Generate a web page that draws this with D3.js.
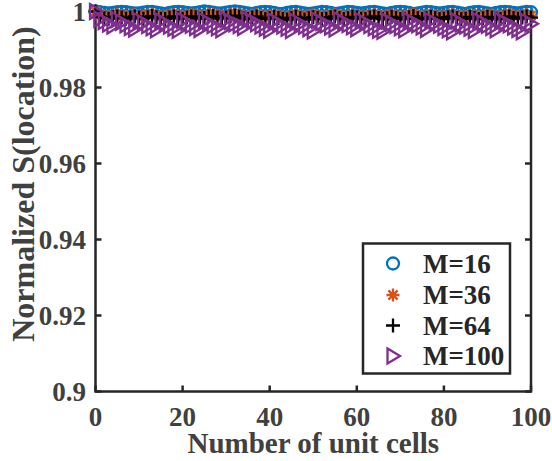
<!DOCTYPE html>
<html lang="en">
<head>
<meta charset="utf-8">
<title>Normalized S(location)</title>
<script src="https://cdn.jsdelivr.net/npm/d3@7"></script>
<style>
  body { margin: 0; background: #fff; }
  text { font-family: "Liberation Serif", "Times New Roman", serif; font-weight: bold; fill: #404040; }
</style>
</head>
<body>
<script>
// data
var series_names = ["M=16", "M=36", "M=64", "M=100"];
var cells = d3.range(0, 101);   // number of unit cells 0..100

var s_m16 = [
  1.0000, 0.9998, 0.9996, 0.9995, 0.9996, 0.9998, 0.9999, 0.9998, 0.9996, 0.9995,
  0.9995, 0.9997, 0.9999, 0.9999, 0.9997, 0.9995, 0.9994, 0.9996, 0.9998, 0.9999,
  0.9998, 0.9996, 0.9995, 0.9996, 0.9998, 1.0000, 0.9999, 0.9997, 0.9995, 0.9995,
  0.9997, 0.9999, 1.0000, 0.9999, 0.9997, 0.9995, 0.9994, 0.9996, 0.9998, 0.9999,
  0.9998, 0.9996, 0.9994, 0.9994, 0.9996, 0.9998, 0.9999, 0.9997, 0.9995, 0.9994,
  0.9995, 0.9997, 0.9999, 0.9998, 0.9996, 0.9994, 0.9995, 0.9997, 0.9999, 0.9998,
  0.9996, 0.9995, 0.9996, 0.9998, 0.9999, 0.9997, 0.9995, 0.9994, 0.9996, 0.9998,
  0.9999, 0.9998, 0.9996, 0.9994, 0.9995, 0.9997, 0.9999, 0.9998, 0.9996, 0.9995,
  0.9996, 0.9998, 0.9999, 0.9997, 0.9995, 0.9994, 0.9996, 0.9998, 0.9999, 0.9997,
  0.9995, 0.9994, 0.9996, 0.9998, 0.9999, 0.9998, 0.9996, 0.9995, 0.9997, 0.9999,
  0.9998
];
var s_m36 = [
  1.0000, 0.9991, 0.9988, 0.9986, 0.9990, 0.9992, 0.9989, 0.9987, 0.9990, 0.9992,
  0.9989, 0.9987, 0.9991, 0.9993, 0.9990, 0.9987, 0.9986, 0.9990, 0.9992, 0.9989,
  0.9987, 0.9990, 0.9992, 0.9990, 0.9987, 0.9989, 0.9992, 0.9993, 0.9990, 0.9987,
  0.9989, 0.9992, 0.9994, 0.9991, 0.9988, 0.9986, 0.9990, 0.9992, 0.9989, 0.9986,
  0.9988, 0.9991, 0.9989, 0.9986, 0.9985, 0.9989, 0.9991, 0.9988, 0.9986, 0.9988,
  0.9991, 0.9989, 0.9986, 0.9987, 0.9990, 0.9992, 0.9989, 0.9986, 0.9988, 0.9991,
  0.9990, 0.9987, 0.9986, 0.9990, 0.9992, 0.9989, 0.9986, 0.9988, 0.9991, 0.9989,
  0.9986, 0.9987, 0.9991, 0.9993, 0.9989, 0.9986, 0.9988, 0.9991, 0.9989, 0.9986,
  0.9987, 0.9990, 0.9992, 0.9989, 0.9986, 0.9987, 0.9991, 0.9989, 0.9986, 0.9988,
  0.9991, 0.9990, 0.9987, 0.9986, 0.9990, 0.9992, 0.9989, 0.9987, 0.9990, 0.9992,
  0.9989
];
var s_m64 = [
  1.0000, 0.9987, 0.9983, 0.9981, 0.9985, 0.9987, 0.9984, 0.9981, 0.9984, 0.9987,
  0.9984, 0.9981, 0.9985, 0.9988, 0.9985, 0.9981, 0.9980, 0.9984, 0.9987, 0.9983,
  0.9981, 0.9984, 0.9987, 0.9985, 0.9981, 0.9983, 0.9987, 0.9988, 0.9984, 0.9981,
  0.9984, 0.9987, 0.9989, 0.9986, 0.9982, 0.9980, 0.9984, 0.9987, 0.9983, 0.9980,
  0.9982, 0.9986, 0.9983, 0.9980, 0.9979, 0.9983, 0.9986, 0.9982, 0.9979, 0.9982,
  0.9985, 0.9983, 0.9980, 0.9981, 0.9985, 0.9987, 0.9983, 0.9980, 0.9982, 0.9986,
  0.9984, 0.9981, 0.9980, 0.9984, 0.9987, 0.9983, 0.9980, 0.9982, 0.9986, 0.9983,
  0.9980, 0.9981, 0.9985, 0.9988, 0.9983, 0.9980, 0.9982, 0.9986, 0.9983, 0.9980,
  0.9981, 0.9985, 0.9987, 0.9983, 0.9980, 0.9981, 0.9986, 0.9983, 0.9980, 0.9982,
  0.9986, 0.9984, 0.9981, 0.9980, 0.9984, 0.9987, 0.9983, 0.9981, 0.9984, 0.9987,
  0.9984
];
var s_m100 = [
  1.0000, 0.9980, 0.9974, 0.9967, 0.9962, 0.9979, 0.9972, 0.9965, 0.9958, 0.9954,
  0.9976, 0.9970, 0.9963, 0.9957, 0.9952, 0.9975, 0.9969, 0.9962, 0.9956, 0.9951,
  0.9977, 0.9971, 0.9964, 0.9958, 0.9953, 0.9976, 0.9970, 0.9963, 0.9957, 0.9952,
  0.9979, 0.9974, 0.9968, 0.9963, 0.9958, 0.9979, 0.9974, 0.9968, 0.9962, 0.9956,
  0.9951, 0.9975, 0.9969, 0.9962, 0.9956, 0.9950, 0.9974, 0.9968, 0.9961, 0.9955,
  0.9949, 0.9977, 0.9971, 0.9965, 0.9959, 0.9954, 0.9978, 0.9972, 0.9966, 0.9960,
  0.9955, 0.9976, 0.9970, 0.9963, 0.9957, 0.9951, 0.9948, 0.9975, 0.9969, 0.9963,
  0.9957, 0.9952, 0.9977, 0.9971, 0.9965, 0.9959, 0.9953, 0.9976, 0.9970, 0.9964,
  0.9958, 0.9952, 0.9947, 0.9975, 0.9968, 0.9962, 0.9956, 0.9950, 0.9976, 0.9970,
  0.9964, 0.9958, 0.9952, 0.9977, 0.9971, 0.9965, 0.9959, 0.9953, 0.9947, 0.9974,
  0.9968
];
var x_ticks = [0, 20, 40, 60, 80, 100];
var y_ticks = [0.9, 0.92, 0.94, 0.96, 0.98, 1];

var colors = ["#0072BD", "#D95319", "#000000", "#7E2F8E"];
var markers = ["circle", "asterisk", "plus", "triangle"];
var all_series = [s_m16, s_m36, s_m64, s_m100];

var width = 552, height = 461;
var plot_left = 95.5, plot_right = 531, plot_top = 11.5, plot_bottom = 391.5;

var svg = d3.select("body").append("svg")
    .attr("width", width)
    .attr("height", height);

var x = d3.scaleLinear().domain([0, 100]).range([plot_left, plot_right]);
var y = d3.scaleLinear().domain([0.9, 1]).range([plot_bottom, plot_top]);

// marker path for each kind
function marker_path(kind) {
    var p = d3.path();
    if (kind == "circle") {
        p.moveTo(6, 0);
        p.arc(0, 0, 6, 0, 2 * Math.PI);
    } else if (kind == "plus") {
        p.moveTo(-7, 0); p.lineTo(7, 0);
        p.moveTo(0, -7); p.lineTo(0, 7);
    } else if (kind == "asterisk") {
        var r = 6.5, d = 4.6;
        p.moveTo(-r, 0); p.lineTo(r, 0);
        p.moveTo(0, -r); p.lineTo(0, r);
        p.moveTo(-d, -d); p.lineTo(d, d);
        p.moveTo(-d, d); p.lineTo(d, -d);
    } else {
        p.moveTo(-5.5, -7.5); p.lineTo(7, 0); p.lineTo(-5.5, 7.5); p.closePath();
    }
    return p.toString();
}

// ticks on all four sides, pointing inward
var axes = svg.append("g").attr("stroke", "#262626").attr("stroke-width", 2.5);
x_ticks.forEach(function(t) {
    axes.append("line").attr("x1", x(t)).attr("x2", x(t)).attr("y1", plot_bottom).attr("y2", plot_bottom - 6);
    axes.append("line").attr("x1", x(t)).attr("x2", x(t)).attr("y1", plot_top).attr("y2", plot_top + 6);
});
y_ticks.forEach(function(t) {
    axes.append("line").attr("x1", plot_left).attr("x2", plot_left + 6).attr("y1", y(t)).attr("y2", y(t));
    axes.append("line").attr("x1", plot_right).attr("x2", plot_right - 6).attr("y1", y(t)).attr("y2", y(t));
});
axes.append("rect")
    .attr("x", plot_left).attr("y", plot_top)
    .attr("width", plot_right - plot_left).attr("height", plot_bottom - plot_top)
    .attr("fill", "none");

// markers
all_series.forEach(function(s, k) {
    svg.append("g")
        .selectAll("path")
        .data(s)
        .enter()
        .append("path")
        .attr("d", marker_path(markers[k]))
        .attr("transform", function(d, i) { return "translate(" + x(cells[i]) + "," + y(d) + ")"; })
        .attr("fill", "none")
        .attr("stroke", colors[k])
        .attr("stroke-width", 2.3);
});

// tick labels
svg.append("g").selectAll("text")
    .data(x_ticks).enter().append("text")
    .attr("x", function(d) { return x(d); })
    .attr("y", 426)
    .attr("text-anchor", "middle")
    .style("font-size", "27px")
    .text(function(d) { return d; });

svg.append("g").selectAll("text")
    .data(y_ticks).enter().append("text")
    .attr("x", 86)
    .attr("y", function(d) { return y(d) + 9; })
    .attr("text-anchor", "end")
    .style("font-size", "27px")
    .text(function(d) { return d; });

// axis labels
svg.append("text")
    .attr("x", (plot_left + plot_right) / 2)
    .attr("y", 453)
    .attr("text-anchor", "middle")
    .style("font-size", "29px")
    .text("Number of unit cells");

svg.append("text")
    .attr("transform", "translate(34,184) rotate(-90)")
    .attr("text-anchor", "middle")
    .style("font-size", "32px")
    .text("Normalized S(location)");

// legend
var legend = svg.append("g");
legend.append("rect")
    .attr("x", 363).attr("y", 243.5)
    .attr("width", 147).attr("height", 130)
    .attr("fill", "#fff")
    .attr("stroke", "#262626")
    .attr("stroke-width", 2.5);

var leg_y = [263.5, 295, 325.5, 356];
series_names.forEach(function(name, k) {
    legend.append("path")
        .attr("d", marker_path(markers[k]))
        .attr("transform", "translate(393," + leg_y[k] + ")")
        .attr("fill", "none")
        .attr("stroke", colors[k])
        .attr("stroke-width", 2.3);
    legend.append("text")
        .attr("x", 423)
        .attr("y", leg_y[k] + 9)
        .style("font-size", "27px")
        .style("fill", "#262626")
        .text(name);
});
</script>
</body>
</html>
